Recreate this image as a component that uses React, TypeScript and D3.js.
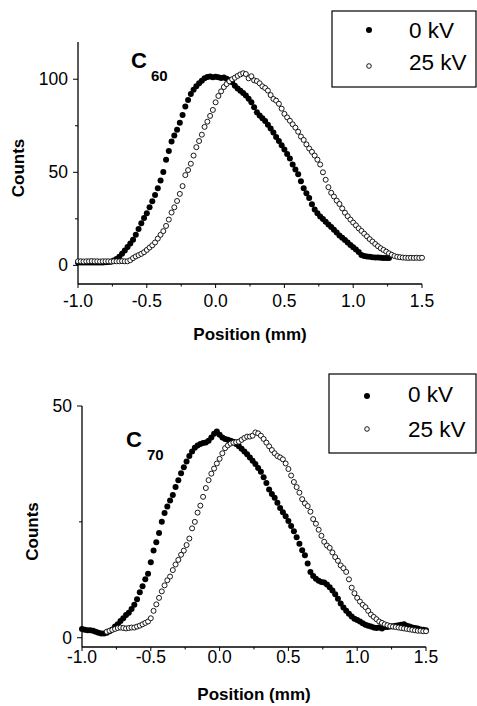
import React from "react";
import * as d3 from "d3";

const width = 477;
const height = 706;
const FONT = '"Liberation Sans", Arial, Helvetica, sans-serif';

// beam position grid (mm)
const positions = [
  -1, -0.98, -0.96, -0.94, -0.92, -0.9, -0.88, -0.86, -0.84, -0.82,
  -0.8, -0.78, -0.76, -0.74, -0.72, -0.7, -0.68, -0.66, -0.64, -0.62,
  -0.6, -0.58, -0.56, -0.54, -0.52, -0.5, -0.48, -0.46, -0.44, -0.42,
  -0.4, -0.38, -0.36, -0.34, -0.32, -0.3, -0.28, -0.26, -0.24, -0.22,
  -0.2, -0.18, -0.16, -0.14, -0.12, -0.1, -0.08, -0.06, -0.04, -0.02,
  0, 0.02, 0.04, 0.06, 0.08, 0.1, 0.12, 0.14, 0.16, 0.18,
  0.2, 0.22, 0.24, 0.26, 0.28, 0.3, 0.32, 0.34, 0.36, 0.38,
  0.4, 0.42, 0.44, 0.46, 0.48, 0.5, 0.52, 0.54, 0.56, 0.58,
  0.6, 0.62, 0.64, 0.66, 0.68, 0.7, 0.72, 0.74, 0.76, 0.78,
  0.8, 0.82, 0.84, 0.86, 0.88, 0.9, 0.92, 0.94, 0.96, 0.98,
  1, 1.02, 1.04, 1.06, 1.08, 1.1, 1.12, 1.14, 1.16, 1.18,
  1.2, 1.22, 1.24, 1.26, 1.28, 1.3, 1.32, 1.34, 1.36, 1.38,
  1.4, 1.42, 1.44, 1.46, 1.48, 1.5,
];

const c60Off = [
  1.5, 1.5, 1.5, 1.5, 1.5, 1.5, 1.5, 1.5, 1.5, 1.6,
  1.7, 1.8, 2.0, 2.6, 3.4, 4.6, 6.3, 8.0, 9.9, 11.8,
  13.8, 16.5, 19.5, 22.6, 25.4, 28.0, 31.2, 34.4, 37.8, 41.5,
  45.6, 50.2, 56.8, 61.5, 66.5, 69.8, 72.8, 76.6, 80.8, 85.4,
  88.8, 92.0, 94.3, 96.2, 97.8, 99.2, 100.5, 101.2, 101.4, 101.0,
  101.3, 101.0, 100.6, 100.9, 100.2, 99.5, 98.4, 96.5, 95.0, 93.8,
  92.6, 91.3, 89.5, 87.6, 85.0, 82.2, 80.5, 79.0, 77.5, 75.6,
  73.5, 71.4, 69.0, 66.8, 64.6, 62.3, 59.8, 57.4, 54.2, 51.5,
  49.0, 45.2, 41.5, 38.8, 36.2, 32.8, 30.0, 28.0, 26.3, 24.9,
  23.5, 22.0, 20.6, 19.2, 17.6, 16.1, 14.9, 13.6, 12.3, 11.0,
  9.8, 8.5, 7.2, 5.6, 5.0, 4.8, 4.6, 4.4, 4.3, 4.2,
  4.1, 4.0, 4.0, 3.9, null, null, null, null, null, null,
  null, null, null, null, null, null,
];

const c60On = [
  2.2, 2.2, 2.1, 2.2, 2.2, 2.3, 2.2, 2.2, 2.1, 2.2,
  2.2, 2.2, 2.1, 2.2, 2.2, 2.2, 2.3, 2.2, 2.2, 2.8,
  3.9, 4.8, 5.5, 6.2, 7.1, 8.3, 9.6, 10.8, 12.3, 14.4,
  16.4, 18.4, 21.2, 24.6, 28.4, 31.2, 34.6, 38.4, 42.6, 48.5,
  51.2, 54.6, 59.0, 63.5, 66.8, 70.2, 74.4, 77.2, 80.3, 83.5,
  87.6, 91.0, 93.5, 95.8, 97.4, 98.9, 100.0, 100.8, 101.8, 102.6,
  103.2, 102.8, 100.5, 101.6, 99.4, 99.0, 97.8, 96.2, 95.3, 93.9,
  91.5, 89.4, 88.5, 86.8, 84.2, 81.4, 79.5, 77.7, 75.8, 74.0,
  71.8, 69.2, 67.4, 65.0, 62.8, 61.0, 59.0, 56.8, 54.2, 50.0,
  46.0, 42.0, 39.0, 37.0, 34.8, 33.0, 30.6, 28.3, 26.4, 24.6,
  23.0, 21.5, 19.9, 18.5, 17.0, 15.6, 14.1, 12.8, 11.5, 10.3,
  9.2, 8.3, 7.4, 6.5, 5.7, 5.0, 4.6, 4.4, 4.2, 4.1,
  4.0, 4.1, 4.0, 4.1, 4.0, 4.1,
];

const c70Off = [
  1.9, 1.7, 1.6, 1.6, 1.5, 1.3, 1.1, 0.9, 0.9, 1.1,
  1.4, 1.8, 2.4, 2.9, 3.6, 4.2, 4.9, 5.4, 6.2, 7.1,
  8.3, 9.8, 11.1, 12.6, 13.8, 16.3, 18.8, 20.6, 22.6, 25.0,
  26.9, 28.3, 29.6, 30.8, 32.5, 34.0, 35.5, 36.8, 38.0, 39.2,
  40.2, 41.0, 41.5, 41.8, 42.0, 42.1, 42.5, 43.2, 44.0, 44.5,
  43.8, 43.2, 42.9, 42.7, 42.5, 42.3, 41.8, 41.3, 40.8, 40.2,
  39.6, 38.9, 38.2, 37.5, 36.6, 35.8, 34.6, 33.4, 32.0, 31.0,
  30.2, 29.1, 28.0, 27.1, 26.2, 25.2, 24.1, 23.0, 21.7, 20.3,
  18.9, 17.8, 16.0, 14.2, 13.3, 12.7, 12.3, 12.0, 11.9, 11.5,
  10.9, 10.2, 9.4, 8.4, 7.4, 6.5, 5.8, 5.2, 4.6, 4.1,
  3.8, 3.5, 3.1, 2.8, 2.6, 2.4, 2.2, 2.1, 2.2, 2.0,
  2.3, 2.3, 2.4, 2.5, 2.6, 2.7, 2.8, 2.9, 2.6, 2.4,
  2.2, 2.1, 2.0, 1.8, 1.7, 1.6,
];

const c70On = [
  null, null, null, null, null, null, null, null, null, 1.3,
  1.5, 1.7, 1.9, 2.1, 2.2, 2.1, 2.0, 2.1, 2.2, 2.2,
  2.4, 2.6, 2.9, 3.2, 3.5, 4.2, 5.8, 7.2, 8.6, 10.0,
  11.3, 12.4, 13.2, 14.6, 15.8, 16.8, 17.9, 18.8, 20.0, 21.4,
  23.6, 25.0, 27.0, 28.5, 30.4, 32.3, 34.0, 35.4, 36.5, 37.6,
  38.6, 39.8, 40.9, 41.5, 41.9, 42.1, 42.2, 42.3, 42.7, 43.1,
  43.4, 43.4, 43.6, 44.3, 44.1, 43.6, 42.9, 42.1, 41.3, 40.5,
  39.8, 39.2, 38.9, 38.5, 37.6, 36.4, 35.0, 33.6, 32.5, 31.3,
  29.9, 29.0, 28.4, 27.2, 25.6, 24.6, 23.3, 22.0, 20.7, 19.9,
  19.4, 18.4, 17.4, 16.6, 15.6, 15.0, 14.2, 12.6, 10.8, 9.6,
  8.6, 7.8, 7.1, 6.6, 5.8, 5.0, 4.5, 4.0, 3.5, 3.2,
  2.9, 2.7, 2.5, 2.4, 2.3, 2.2, 2.1, 2.0, 1.9, 1.8,
  1.7, 1.6, 1.5, 1.5, 1.4, 1.4,
];

const xTicks = [-1, -0.5, 0, 0.5, 1, 1.5];
const xTickLabels = ["-1.0", "-0.5", "0.0", "0.5", "1.0", "1.5"];
const xMinor = [-0.75, -0.25, 0.25, 0.75, 1.25];
const legendLabels = ["0 kV", "25 kV"];

type Leg = { left: number; top: number; bottom: number; markX: number; textX: number; y1: number; y2: number; t1: number; t2: number };

type PanelProps = {
  off: (number | null)[];
  on: (number | null)[];
  x0: number;
  x1: number;
  yTop: number;
  yBottom: number;
  yDomain: [number, number];
  yTicks: number[];
  yMinor: number[];
  tickBase: number;
  titleBase: number;
  countsX: number;
  tag: string;
  tagX: number;
  tagY: number;
  subX: number;
  subY: number;
  legend: Leg;
};

function Panel(p: PanelProps) {
  const x = d3.scaleLinear().domain([-1, 1.5]).range([p.x0, p.x1]);
  const y = d3.scaleLinear().domain(p.yDomain).range([p.yBottom, p.yTop]);
  const offPts = positions.map((d, i) => [d, p.off[i]] as [number, number | null]).filter((d) => d[1] != null);
  const onPts = positions.map((d, i) => [d, p.on[i]] as [number, number | null]).filter((d) => d[1] != null);
  const L = p.legend;
  return (
    <g fontFamily={FONT} fill="#000">
      <line x1={p.x0} x2={p.x1} y1={p.yBottom} y2={p.yBottom} stroke="#000" strokeWidth={1.3} />
      <line x1={p.x0} x2={p.x0} y1={p.yTop} y2={p.yBottom} stroke="#000" strokeWidth={1.3} />
      {xTicks.map((t, i) => (
        <g key={"xt" + i}>
          <line x1={x(t)} x2={x(t)} y1={p.yBottom} y2={p.yBottom + 4} stroke="#000" strokeWidth={1} />
          <text x={x(t)} y={p.tickBase} fontSize={17.5} textAnchor="middle">{xTickLabels[i]}</text>
        </g>
      ))}
      {xMinor.map((t, i) => (
        <line key={"xm" + i} x1={x(t)} x2={x(t)} y1={p.yBottom} y2={p.yBottom + 2.5} stroke="#000" strokeWidth={1} />
      ))}
      {p.yTicks.map((t, i) => (
        <g key={"yt" + i}>
          <line x1={p.x0 - 5} x2={p.x0} y1={y(t)} y2={y(t)} stroke="#000" strokeWidth={1} />
          <text x={p.x0 - 10} y={y(t) + 6} fontSize={17.5} textAnchor="end">{t}</text>
        </g>
      ))}
      {p.yMinor.map((t, i) => (
        <line key={"ym" + i} x1={p.x0 - 3} x2={p.x0} y1={y(t)} y2={y(t)} stroke="#000" strokeWidth={1} />
      ))}
      <text x={(p.x0 + p.x1) / 2} y={p.titleBase} fontSize={17} fontWeight="bold" textAnchor="middle">Position (mm)</text>
      <text transform={`translate(${p.countsX},${(p.yTop + p.yBottom) / 2 + 5}) rotate(-90)`} fontSize={17} fontWeight="bold" textAnchor="middle">Counts</text>
      <text x={p.tagX} y={p.tagY} fontSize={22} fontWeight="bold">C</text>
      <text x={p.subX} y={p.subY} fontSize={15} fontWeight="bold">{p.tag}</text>
      {offPts.map((d, i) => (
        <circle key={"f" + i} cx={x(d[0])} cy={y(d[1] as number)} r={3} fill="#000" />
      ))}
      {onPts.map((d, i) => (
        <circle key={"o" + i} cx={x(d[0])} cy={y(d[1] as number)} r={2.5} fill="#fff" stroke="#000" strokeWidth={0.9} />
      ))}
      <rect x={L.left} y={L.top} width={width - 1 - L.left} height={L.bottom - L.top} fill="none" stroke="#000" strokeWidth={1.2} />
      <circle cx={L.markX} cy={L.y1} r={3} fill="#000" />
      <circle cx={L.markX} cy={L.y2} r={2.3} fill="#fff" stroke="#000" strokeWidth={0.9} />
      <text x={L.textX} y={L.t1} fontSize={22.5}>{legendLabels[0]}</text>
      <text x={L.textX} y={L.t2} fontSize={22.5}>{legendLabels[1]}</text>
    </g>
  );
}

export default function App() {
  return (
    <svg width={width} height={height} style={{ position: "absolute", left: 0, top: 0, background: "#fff" }}>
      <rect width={width} height={height} fill="#fff" />
      <Panel
        off={c60Off}
        on={c60On}
        x0={78}
        x1={422}
        yTop={42}
        yBottom={284}
        yDomain={[-10, 120]}
        yTicks={[0, 50, 100]}
        yMinor={[25, 75]}
        tickBase={307}
        titleBase={340}
        countsX={24}
        tag="60"
        tagX={131}
        tagY={68}
        subX={151}
        subY={81}
        legend={{ left: 332, top: 11, bottom: 87, markX: 369, textX: 409, y1: 30, y2: 66, t1: 38, t2: 70 }}
      />
      <Panel
        off={c70Off}
        on={c70On}
        x0={82}
        x1={426}
        yTop={406}
        yBottom={647}
        yDomain={[-2, 50]}
        yTicks={[0, 50]}
        yMinor={[25]}
        tickBase={663}
        titleBase={700}
        countsX={38}
        tag="70"
        tagX={126}
        tagY={447}
        subX={147}
        subY={460}
        legend={{ left: 329, top: 374, bottom: 453, markX: 367, textX: 408, y1: 396, y2: 429, t1: 402, t2: 437 }}
      />
    </svg>
  );
}
